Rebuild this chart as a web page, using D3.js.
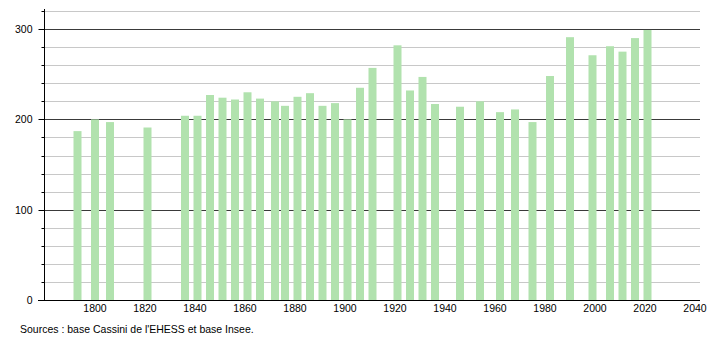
<!DOCTYPE html>
<html>
<head>
<meta charset="utf-8">
<script src="https://cdn.jsdelivr.net/npm/d3@7"></script>
<style>
  body { margin: 0; background: #fff; }
  text { font-family: "Liberation Sans", Arial, sans-serif; }
</style>
</head>
<body>
<div id="chart"></div>
<script>
// census years and population
const years = [1793, 1800, 1806, 1821, 1836, 1841, 1846, 1851, 1856, 1861,
  1866, 1872, 1876, 1881, 1886, 1891, 1896, 1901, 1906, 1911,
  1921, 1926, 1931, 1936, 1946, 1954, 1962, 1968, 1975, 1982,
  1990, 1999, 2006, 2011, 2016, 2021];
const population = [187, 200, 197, 191, 204, 204, 227, 224, 222, 230,
  223, 220, 215, 225, 229, 215, 218, 200, 235, 257,
  282, 232, 247, 217, 214, 220, 208, 211, 197, 248,
  291, 271, 281, 275, 290, 299];
const xTicks = [1800, 1820, 1840, 1860, 1880, 1900, 1920, 1940, 1960, 1980, 2000, 2020, 2040];
const yMajor = [0, 100, 200, 300];
const yMinor = d3.range(20, 321, 20);
const source = "Sources : base Cassini de l'EHESS et base Insee.";

const width = 710;
const height = 340;
const mLeft = 44, mRight = 700, mTop = 11, mBottom = 300;

const svg = d3.select("#chart").append("svg")
    .attr("width", width)
    .attr("height", height);

const x = d3.scaleLinear().domain([1780, 2040]).range([45, 695]);
const y = d3.scaleLinear().domain([0, 320]).range([mBottom, mTop]);

// minor grid
svg.append("g").selectAll("line")
  .data(yMinor.filter(d => d % 100 != 0))
  .join("line")
    .attr("x1", mLeft).attr("x2", mRight)
    .attr("y1", d => Math.round(y(d)) + 0.5).attr("y2", d => Math.round(y(d)) + 0.5)
    .attr("stroke", "#c8c8c8");

// major grid
svg.append("g").selectAll("line")
  .data(yMajor.filter(d => d > 0))
  .join("line")
    .attr("x1", mLeft).attr("x2", mRight)
    .attr("y1", d => Math.round(y(d)) + 0.5).attr("y2", d => Math.round(y(d)) + 0.5)
    .attr("stroke", "#3a3a3a");

// bars sit on top of the grid
const bw = 8;
svg.append("g").selectAll("rect")
  .data(years)
  .join("rect")
    .attr("x", (d, i) => x(d) - bw / 2)
    .attr("y", (d, i) => y(population[i]))
    .attr("width", bw)
    .attr("height", (d, i) => mBottom - y(population[i]))
    .attr("fill", "#b1e2ae");

// y axis
const yAxis = svg.append("g").attr("transform", `translate(${mLeft + 0.5},0)`);
yAxis.append("line")
    .attr("y1", mTop - 2).attr("y2", mBottom)
    .attr("stroke", "#000");
yAxis.selectAll("line.minor")
  .data(yMinor)
  .join("line")
    .attr("class", "minor")
    .attr("x1", -3).attr("x2", 0)
    .attr("y1", d => Math.round(y(d)) + 0.5).attr("y2", d => Math.round(y(d)) + 0.5)
    .attr("stroke", "#000");
yAxis.selectAll("line.major")
  .data(yMajor)
  .join("line")
    .attr("class", "major")
    .attr("x1", -6).attr("x2", 0)
    .attr("y1", d => Math.round(y(d)) + 0.5).attr("y2", d => Math.round(y(d)) + 0.5)
    .attr("stroke", "#000");
yAxis.selectAll("text")
  .data(yMajor)
  .join("text")
    .attr("x", -12)
    .attr("y", d => y(d) + 4)
    .attr("text-anchor", "end")
    .attr("font-size", 10.5)
    .text(d => d);

// x axis
svg.append("line")
    .attr("x1", mLeft - 6).attr("x2", mRight)
    .attr("y1", mBottom + 0.5).attr("y2", mBottom + 0.5)
    .attr("stroke", "#000");
svg.append("g").selectAll("text")
  .data(xTicks)
  .join("text")
    .attr("x", d => x(d))
    .attr("y", 312)
    .attr("text-anchor", "middle")
    .attr("font-size", 10.5)
    .text(d => d);

svg.append("text")
    .attr("x", 20)
    .attr("y", 333)
    .attr("font-size", 10.5)
    .text(source);
</script>
</body>
</html>
